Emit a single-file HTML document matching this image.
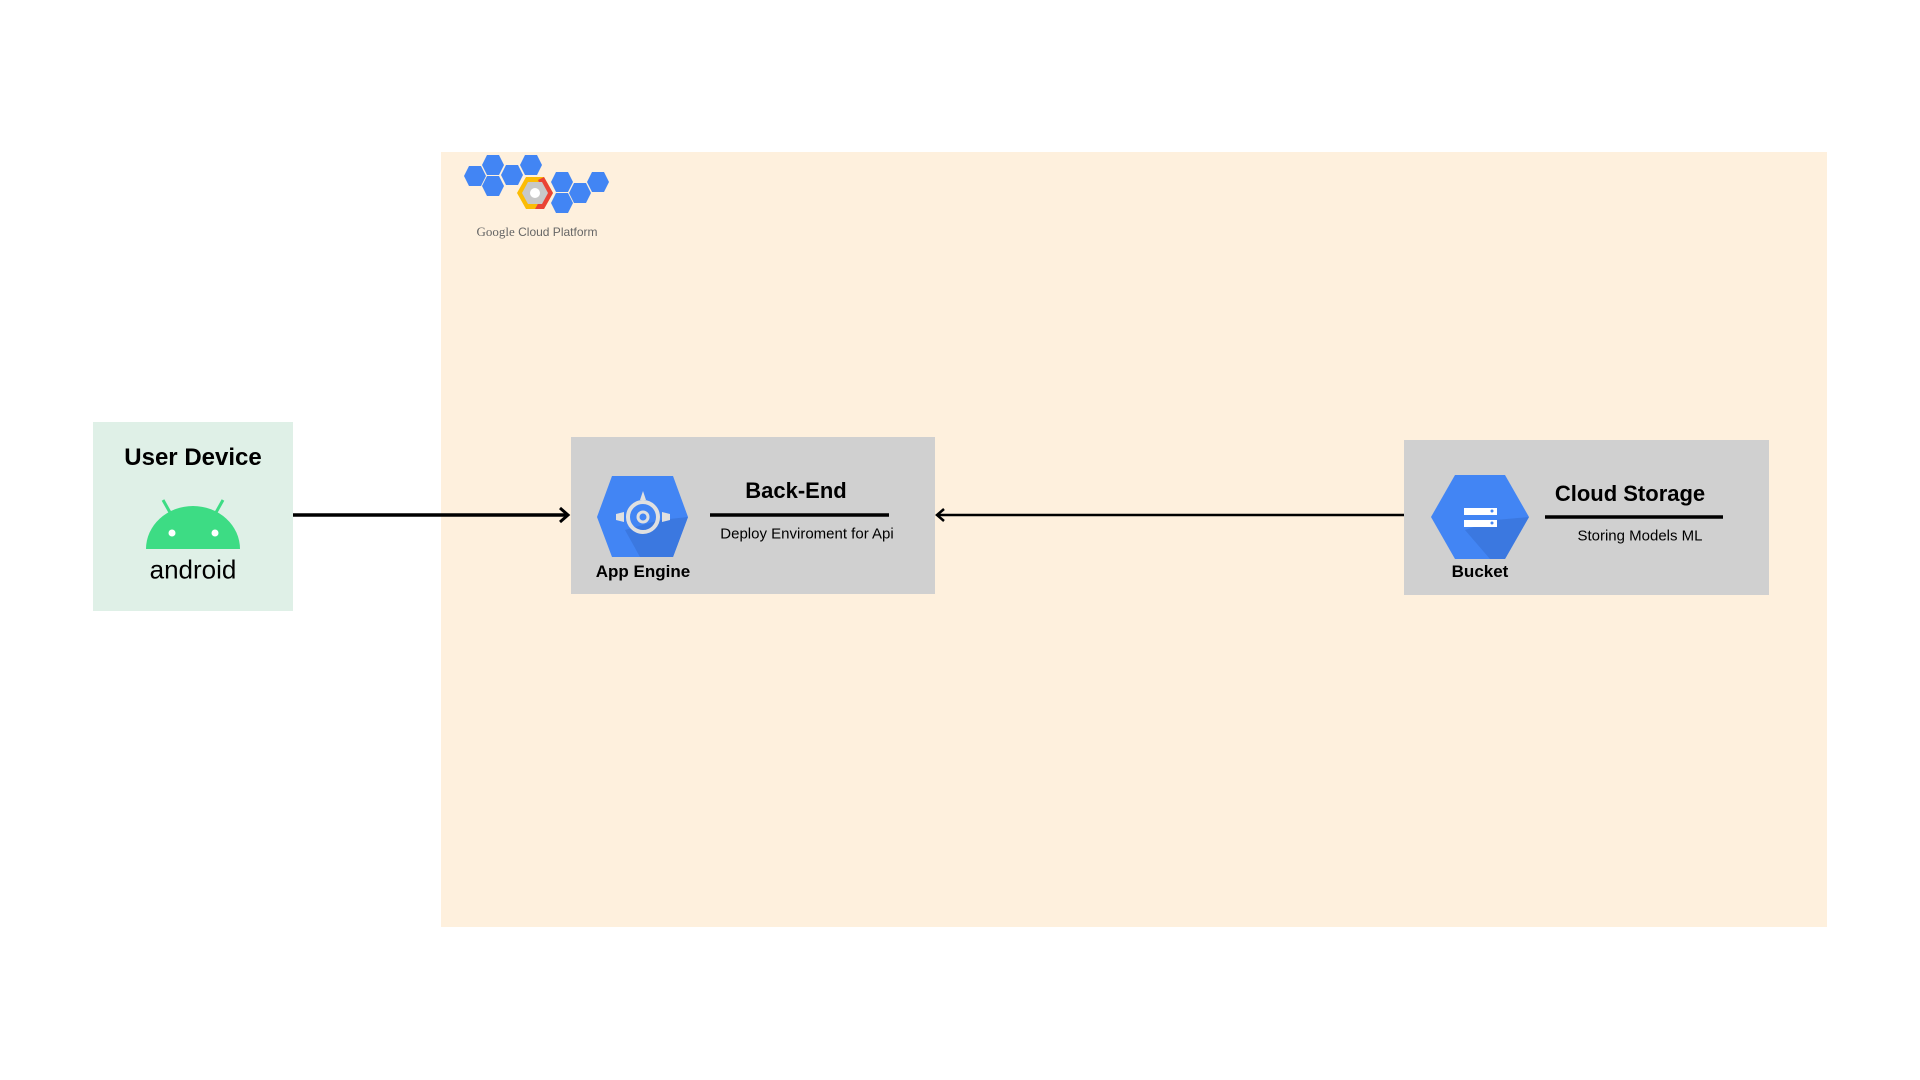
<!DOCTYPE html>
<html><head><meta charset="utf-8"><style>
body{margin:0;width:1920px;height:1080px;background:#fff;position:relative;overflow:hidden;font-family:"Liberation Sans",sans-serif}
.a{position:absolute}
.t{position:absolute;transform:translate(-50%,-50%);white-space:nowrap;color:#000}
</style></head><body>
<div class="a" style="left:441px;top:152px;width:1386px;height:775px;background:#fef0dd"></div>
<div class="a" style="left:93px;top:422px;width:200px;height:189px;background:#dff0e7"></div>
<div class="a" style="left:571px;top:437px;width:364px;height:157px;background:#d0d0d0"></div>
<div class="a" style="left:1404px;top:440px;width:365px;height:155px;background:#d0d0d0"></div>

<svg class="a" style="left:0;top:0" width="1920" height="1080">
<line x1="293" y1="515" x2="566" y2="515" stroke="#000" stroke-width="3.5"/>
<polyline points="560,508 568,515 560,522" fill="none" stroke="#000" stroke-width="3"/>
<line x1="1404" y1="515" x2="938" y2="515" stroke="#000" stroke-width="2.5"/>
<polyline points="944,509 937,515 944,521" fill="none" stroke="#000" stroke-width="2.5"/>
<line x1="710" y1="515" x2="889" y2="515" stroke="#000" stroke-width="3.5"/>
<line x1="1545" y1="517" x2="1723" y2="517" stroke="#000" stroke-width="3.5"/>
<path d="M146 549 A47 43 0 0 1 240 549 Z" fill="#3ddc84"/>
<line x1="163" y1="500" x2="172" y2="516" stroke="#3ddc84" stroke-width="3"/>
<line x1="223" y1="500" x2="214" y2="516" stroke="#3ddc84" stroke-width="3"/>
<circle cx="172" cy="533" r="3.5" fill="#fff"/><circle cx="215" cy="533" r="3.5" fill="#fff"/>
<polygon points="612,476 673,476 688,517 673,557 612,557 597,517" fill="#4285f4"/>
<polygon points="660,520 688,517 673,557 640,557 625,530" fill="#3b78e0"/>
<circle cx="643" cy="517" r="15" fill="none" stroke="#e0e0e0" stroke-width="4"/>
<circle cx="643" cy="517" r="5" fill="none" stroke="#e0e0e0" stroke-width="3"/>
<polygon points="640,500 646,500 643,491" fill="#e0e0e0"/>
<polygon points="616,514 624,512 624,522 616,520" fill="#e0e0e0"/>
<polygon points="670,514 662,512 662,522 670,520" fill="#e0e0e0"/>
<polygon points="1455,475 1505,475 1529,517 1505,559 1455,559 1431,517" fill="#4285f4"/>
<polygon points="1495,520 1529,517 1505,559 1490,559 1465,530" fill="#3b78e0"/>
<rect x="1464" y="508" width="33" height="7" fill="#fff"/>
<rect x="1464" y="520" width="33" height="7" fill="#fff"/>
<circle cx="1492" cy="511" r="1.5" fill="#4285f4"/><circle cx="1492" cy="523" r="1.5" fill="#4285f4"/>
<g fill="#4285f4">
<polygon points="469,166 481,166 486,176 481,186 469,186 464,176"/>
<polygon points="487,155 499,155 504,165 499,175 487,175 482,165"/>
<polygon points="506,165 518,165 523,175 518,185 506,185 501,175"/>
<polygon points="525,155 537,155 542,165 537,175 525,175 520,165"/>
<polygon points="487,176 499,176 504,186 499,196 487,196 482,186"/>
<polygon points="556,172 568,172 573,182 568,192 556,192 551,182"/>
<polygon points="556,193 568,193 573,203 568,213 556,213 551,203"/>
<polygon points="574,183 586,183 591,193 586,203 574,203 569,193"/>
<polygon points="592,172 604,172 609,182 604,192 592,192 587,182"/>
</g>
<polygon points="526,177 544,177 553,193 544,209 526,209 517,193" fill="#fbbc05"/>
<polygon points="544,177 553,193 544,209 535,209 544,193 538,180" fill="#ea4335"/>
<polygon points="528,182 542,182 548,193 542,204 528,204 522,193" fill="#c8c8c8"/>
<circle cx="535" cy="193" r="5" fill="#fff"/>
</svg>

<div class="t" style="left:193px;top:458px;font-size:24px;font-weight:bold">User Device</div>
<div class="t" style="left:193px;top:570px;font-size:26px;">android</div>
<div class="t" style="left:796px;top:491px;font-size:22px;font-weight:bold">Back-End</div>
<div class="t" style="left:807px;top:534px;font-size:15px">Deploy Enviroment for Api</div>
<div class="t" style="left:643px;top:572px;font-size:17px;font-weight:bold">App Engine</div>
<div class="t" style="left:1630px;top:494px;font-size:22px;font-weight:bold">Cloud Storage</div>
<div class="t" style="left:1640px;top:536px;font-size:15px">Storing Models ML</div>
<div class="t" style="left:1480px;top:572px;font-size:17px;font-weight:bold">Bucket</div>
<div class="t" style="left:537px;top:232px;font-size:12px;color:#666"><span style="font-family:'Liberation Serif',serif;font-size:13px">Google</span> Cloud Platform</div>
</body></html>
